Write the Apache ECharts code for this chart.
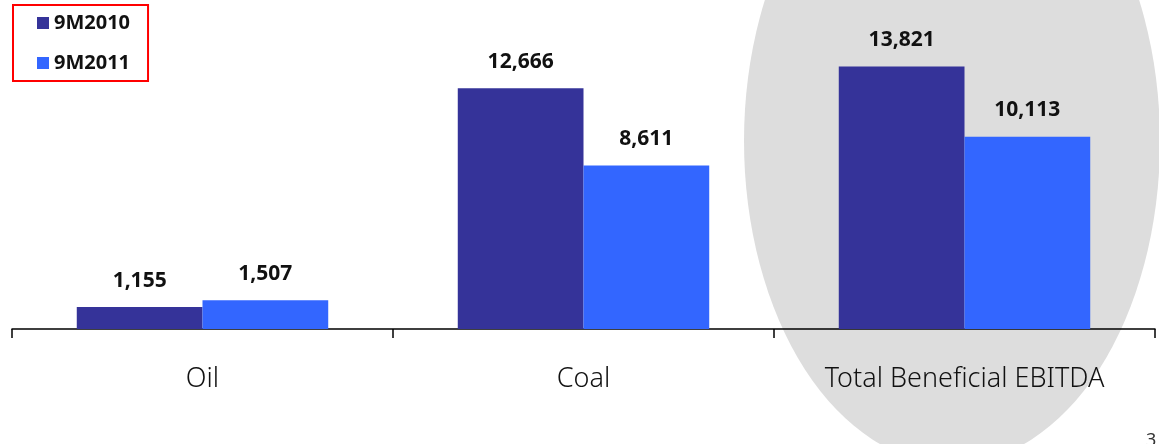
<!DOCTYPE html>
<html>
<head>
<meta charset="utf-8">
<script src="https://cdn.jsdelivr.net/npm/echarts@6/dist/echarts.min.js"></script>
<style>
html,body{margin:0;padding:0;background:#fff;}
#chart{width:1159px;height:444px;}
</style>
</head>
<body>
<div id="chart"></div>
<script>
var categories = ['Oil', 'Coal', 'Total Beneficial EBITDA'];
var seriesNames = ['9M2010', '9M2011'];
var values2010 = [1155, 12666, 13821];
var values2011 = [1507, 8611, 10113];

var chart = echarts.init(document.getElementById('chart'));
var labelStyle = {
  show: true,
  position: 'top',
  distance: 16,
  fontFamily: 'Open Sans',
  fontWeight: 'bold',
  fontSize: 21,
  color: '#111',
  formatter: function (p) { return p.value.toLocaleString('en-US'); }
};
chart.setOption({
  animation: false,
  graphic: [
    {
      type: 'circle',
      shape: { cx: 0, cy: 0, r: 208 },
      x: 952, y: 141,
      scaleY: 323 / 208,
      style: { fill: '#dddddd' },
      z: -10
    },
    {
      type: 'text',
      left: 1146, top: 432,
      style: { text: '3', fontSize: 18, fill: '#333', fontFamily: 'Noto Sans' },
      z: 5
    }
  ],
  legend: {
    orient: 'vertical',
    left: 13,
    top: 5,
    itemWidth: 12,
    itemHeight: 12,
    itemGap: 20,
    borderColor: '#ff0000',
    borderWidth: 2,
    padding: [8, 18, 8, 24],
    icon: 'rect',
    textStyle: { fontFamily: 'Open Sans', fontWeight: 'bold', fontSize: 20, color: '#111' },
    data: seriesNames
  },
  grid: { left: 12, right: 4, top: 6, bottom: 115 },
  xAxis: {
    type: 'category',
    data: categories,
    axisLine: { lineStyle: { color: '#000', width: 1.5 } },
    axisTick: { show: true, length: 9, lineStyle: { color: '#000', width: 1.5 } },
    axisLabel: { margin: 37, fontSize: 27, fontFamily: 'Noto Sans', fontWeight: 300, color: '#111' }
  },
  yAxis: {
    type: 'value',
    min: 0,
    max: 17000,
    show: false,
    splitLine: { show: false }
  },
  series: [
    {
      name: seriesNames[0],
      type: 'bar',
      data: values2010,
      barGap: 0,
      barCategoryGap: '34%',
      itemStyle: { color: '#353399' },
      label: labelStyle
    },
    {
      name: seriesNames[1],
      type: 'bar',
      data: values2011,
      itemStyle: { color: '#3366ff' },
      label: labelStyle
    }
  ]
});
</script>
</body>
</html>
